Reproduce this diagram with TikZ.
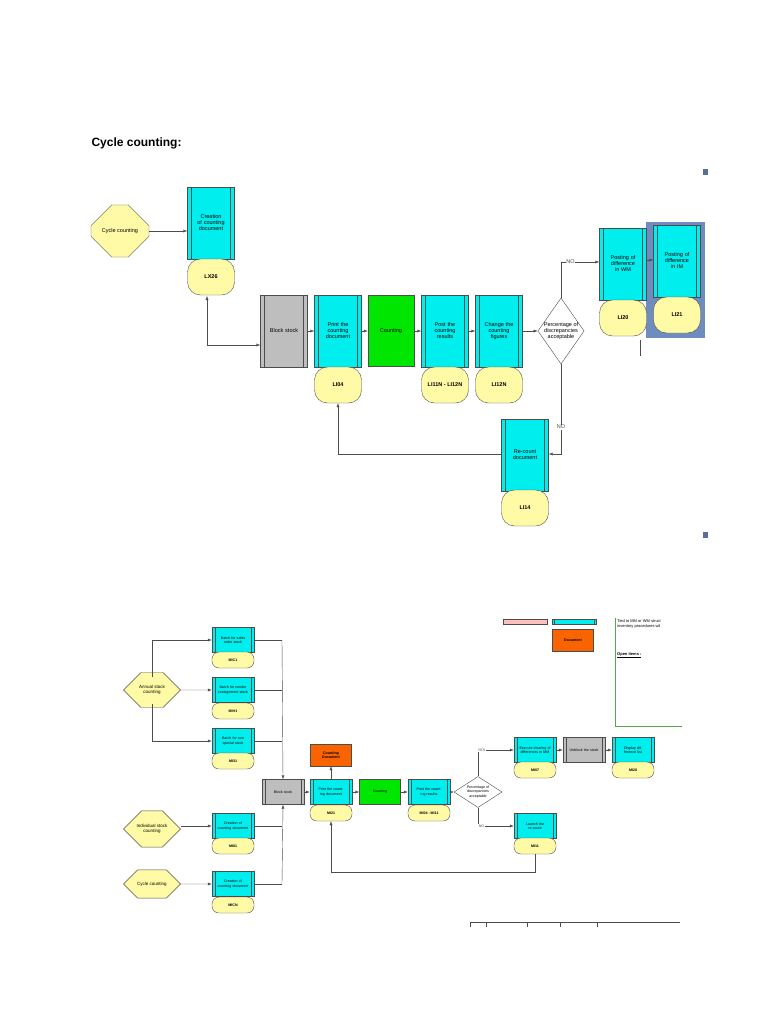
\documentclass[tikz,border=0pt]{standalone}
\usepackage{fontspec}
\setmainfont{Liberation Sans}
\usetikzlibrary{shapes.geometric,shapes.misc,arrows.meta}
\definecolor{fcyan}{RGB}{0,238,238}
\definecolor{fyel}{RGB}{255,250,165}
\definecolor{fgrey}{RGB}{190,190,190}
\definecolor{fgreen}{RGB}{0,230,0}
\definecolor{forange}{RGB}{250,100,0}
\definecolor{fblue}{RGB}{110,140,190}
\definecolor{lgreen}{RGB}{80,170,70}
\begin{document}
\begin{tikzpicture}[x=1pt,y=-1pt,
  big/.style={font=\fontsize{5.5}{6}\selectfont},
  sml/.style={font=\fontsize{3.6}{4.2}\selectfont},
  fn/.style={draw=black!70,fill=fcyan,align=center,inner sep=0pt,
    path picture={\draw[black!70] ([xshift=#1]path picture bounding box.north west)--([xshift=#1]path picture bounding box.south west);
      \draw[black!70] ([xshift=-#1]path picture bounding box.north east)--([xshift=-#1]path picture bounding box.south east);}},
  fn/.default=4pt,
  tfn/.style={fn,big,minimum width=47,minimum height=72,text width=34},
  bfn/.style={fn=3pt,sml,minimum width=42,minimum height=25,text width=32},
  ty/.style={draw=black!70,fill=fyel,rounded corners=13pt,minimum width=47,minimum height=36,big,font=\fontsize{5.5}{6}\selectfont\bfseries},
  by/.style={draw=black!70,fill=fyel,rounded corners=7pt,minimum width=42,minimum height=16,sml,font=\fontsize{3.6}{4.2}\selectfont\bfseries},
  ar/.style={-{Latex[length=4pt,width=3pt]},black!70},
  ln/.style={black!70}]
\useasboundingbox (0,0) rectangle (768,1024);
\node[font=\bfseries\fontsize{12}{14}\selectfont,anchor=west] (title) at (88,143) {Cycle counting:};
\fill[fblue!80!black] (703,169) rectangle (708,175);
\fill[fblue!80!black] (703,532) rectangle (708,538);
% ---------- top diagram
\node[draw=black!70,fill=fyel,big,minimum width=58,minimum height=52,inner sep=0pt,
  shape=chamfered rectangle,chamfered rectangle xsep=12pt,chamfered rectangle ysep=26pt] (h1) at (120,231) {Cycle counting};
\node[tfn] (c1) at (211,223) {Creation of counting document};
\node[ty] (lx26) at (211,277) {LX26};
\node[tfn,fill=fgrey] (bs) at (284,331) {Block stock};
\node[tfn] (pr) at (338,331) {Print the counting document};
\node[ty] (li04) at (338,385) {LI04};
\node[draw=black!70,fill=fgreen,big,minimum width=46,minimum height=71] (cnt) at (391,331) {Counting};
\node[tfn] (po) at (445,331) {Post the counting results};
\node[ty] (li11) at (445,385) {LI11N - LI12N};
\node[tfn] (ch) at (499,331) {Change the counting figures};
\node[ty] (li12) at (499,385) {LI12N};
\node[draw=black!70,diamond,fill=white,big,minimum width=46,minimum height=66,inner sep=0pt,align=center,aspect=0.7] (d1) at (561,331) {Percentage of\\discrepancies\\acceptable};
\fill[fblue] (646,222) rectangle (705,338);
\node[tfn] (pw) at (623,264) {Posting of difference in WM};
\node[ty] (li20) at (623,318) {LI20};
\node[tfn] (pi) at (677,261) {Posting of difference in IM};
\node[ty] (li21) at (677,315) {LI21};
\node[tfn] (rc) at (525,455) {Re-count document};
\node[ty] (li14) at (525,508) {LI14};
\draw[ln] (640,340)--(640,356);
\draw[ar] (h1.east)--(c1.west|-h1.east);
\coordinate (k1) at (207,345);
\draw[ar] (k1)--(207,296);
\draw[ar] (k1)--(bs.west|-k1);
\draw[ar] (bs)--(pr); \draw[ar] (pr)--(cnt); \draw[ar] (cnt)--(po); \draw[ar] (po)--(ch); \draw[ar] (ch)--(d1);
\draw[ar] (d1.north)--(561,262)--node[pos=0.25,fill=white,inner sep=0.5pt,big]{NO}(pw.west|-0,262);
\draw[ar] (pw.east|-0,260)--(pi.west|-0,260);
\draw[ar] (d1.south)--node[pos=0.7,fill=white,inner sep=0.5pt,big]{NO}(561,454)--(rc.east|-0,454);
\draw[ar] (rc.west|-0,454)--(338,454)--(li04.south);
% ---------- bottom diagram
\node[draw=black!70,fill=fyel,font=\fontsize{4.5}{5}\selectfont,minimum width=57,minimum height=27,inner sep=0pt,align=center,
  shape=chamfered rectangle,chamfered rectangle xsep=7pt,chamfered rectangle ysep=13.5pt] (ha) at (152,690) {Annual stock\\counting};
\node[draw=black!70,fill=fyel,font=\fontsize{4.5}{5}\selectfont,minimum width=57,minimum height=27,inner sep=0pt,align=center,
  shape=chamfered rectangle,chamfered rectangle xsep=7pt,chamfered rectangle ysep=13.5pt] (hi) at (152,829) {Individual stock\\counting};
\node[draw=black!70,fill=fyel,font=\fontsize{4.5}{5}\selectfont,minimum width=57,minimum height=24,inner sep=0pt,align=center,
  shape=chamfered rectangle,chamfered rectangle xsep=7pt,chamfered rectangle ysep=12pt] (hc) at (152,884) {Cycle counting};
\node[bfn] (b1) at (233,640) {Batch for sales order stock};
\node[by] (mic1) at (233,660) {MIC1};
\node[bfn] (b2) at (233,690) {Batch for vendor consignment stock};
\node[by] (mih1) at (233,711) {MIH1};
\node[bfn] (b3) at (233,741) {Batch for non special stock};
\node[by] (mi31) at (233,761) {MI31};
\node[bfn] (b4) at (233,826) {Creation of counting document};
\node[by] (mi01) at (233,846) {MI01};
\node[bfn] (b5) at (233,884) {Creation of counting document};
\node[by] (micn) at (233,905) {MICN};
\node[bfn,fill=fgrey] (bbs) at (283,792) {Block stock};
\node[bfn] (bpr) at (331,792) {Print the counting document};
\node[by] (mi21) at (331,813) {MI21};
\node[draw=black!70,fill=forange,font=\fontsize{3.6}{4.2}\selectfont\bfseries,minimum width=41,minimum height=22,inner sep=0pt,align=center,text width=36] (cd) at (331,755) {Counting\\Document};
\node[draw=black!70,fill=fgreen,sml,minimum width=41,minimum height=25] (bcn) at (380,792) {Counting};
\node[bfn] (bpo) at (429,792) {Post the counting results};
\node[by] (mi04) at (429,813) {MI04 - MI11};
\node[draw=black!70,diamond,fill=white,sml,minimum width=48,minimum height=31,inner sep=0pt,align=center,aspect=1.6] (d2) at (478,792) {Percentage of\\discrepancies\\acceptable};
\node[bfn] (ex) at (535,750) {Execute clearing of differences in MM};
\node[by] (mi07) at (535,770) {MI07};
\node[bfn,fill=fgrey] (ub) at (584,750) {Unblock the stock};
\node[bfn] (dl) at (633,750) {Display difference list};
\node[by] (mi20) at (633,770) {MI20};
\node[bfn] (lr) at (535,826) {Launch the re-count};
\node[by] (mi11) at (535,846) {MI11};
\coordinate (vt) at (282,640);
\draw[ln] (ha.north|-0,677)--(152,640); \draw[ar] (152,640)--(b1.west);
\draw[ar] (ha)--(b2);
\draw[ln] (ha.south|-0,704)--(152,741); \draw[ar] (152,741)--(b3.west);
\draw[ar] (hi.east|-0,826)--(b4.west);
\draw[ar] (hc)--(b5);
\draw[ln] (b1.east)--(vt); \draw[ln] (b2.east)--(282,690); \draw[ln] (b3.east)--(282,741);
\draw[ar] (vt)--(bbs.north);
\draw[ln] (b4.east)--(282,826); \draw[ln] (b5.east)--(282,884);
\draw[ar] (282,884)--(bbs.south);
\draw[ar] (bbs)--(bpr); \draw[ar] (bpr)--(bcn); \draw[ar] (bcn)--(bpo); \draw[ar] (bpo)--(d2);
\draw[ar] (bpr.north)--(cd.south);
\draw[ar] (d2.north)--(478,750)--node[pos=0.1,fill=white,inner sep=0.5pt,sml]{YES}(ex.west);
\draw[ar] (d2.south)--(478,826)--node[pos=0.1,fill=white,inner sep=0.5pt,sml]{NO}(lr.west);
\draw[ar] (ex)--(ub); \draw[ar] (ub)--(dl);
\draw[ar] (mi11.south)--(535,872)--(331,872)--(mi21.south);
% legend fragments
\node[draw=black!70,fill=pink,minimum width=44,minimum height=5,inner sep=0pt] (lp) at (525,622) {};
\node[fn=2pt,minimum width=44,minimum height=5,inner sep=0pt] (lc) at (574,622) {};
\node[draw=black!70,fill=forange,font=\fontsize{3.6}{4.2}\selectfont\bfseries,minimum width=41,minimum height=22] (ld) at (573,640) {Document};
\draw[lgreen,line width=1pt] (615,618)--(615,726)--(682,726);
\node[anchor=north west,font=\fontsize{4}{5}\selectfont,align=left,inner sep=0pt] (lt) at (617,619) {Tied to MM or WM struct\\inventory procedures wil};
\node[anchor=west,font=\fontsize{4}{5}\selectfont\bfseries,inner sep=0pt] (oi) at (617,655) {\underline{Open items :}};
\draw[ln] (470,922)--(680,922);
\foreach \x in {470,486,527,560,597} \draw[ln] (\x,922)--(\x,927);
\end{tikzpicture}
\end{document}
